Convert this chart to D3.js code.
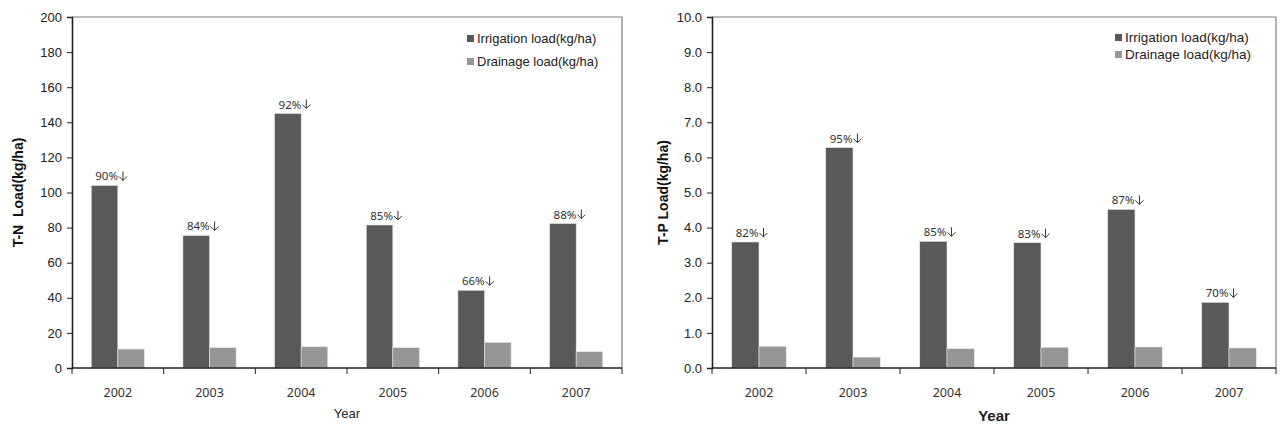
<!DOCTYPE html>
<html>
<head>
<meta charset="utf-8">
<script src="https://cdn.jsdelivr.net/npm/d3@7"></script>
<style>
  body { margin: 0; background: #fff; }
  svg { display: block; font-family: "Liberation Sans", Arial, sans-serif; }
</style>
</head>
<body>
<div id="chart"></div>
<script>
const years = ["2002", "2003", "2004", "2005", "2006", "2007"];
const tnIrrigation = [104, 75.5, 145, 81.5, 44.3, 82.3];
const tnDrainage = [10.8, 11.6, 12.1, 11.6, 14.6, 9.3];
const tnReduction = ["90%", "84%", "92%", "85%", "66%", "88%"];
const tpIrrigation = [3.59, 6.28, 3.61, 3.57, 4.52, 1.87];
const tpDrainage = [0.62, 0.31, 0.55, 0.59, 0.6, 0.57];
const tpReduction = ["82%", "95%", "85%", "83%", "87%", "70%"];
const seriesNames = ["Irrigation load(kg/ha)", "Drainage load(kg/ha)"];

var outerWidth = 1286, outerHeight = 432;
var colors = ["#595959", "#969696"];

var svg = d3.select("#chart").append("svg")
    .attr("width", outerWidth)
    .attr("height", outerHeight);

function drawPanel(opt) {
  var g = svg.append("g");
  var x = d3.scaleBand().domain(years).range([opt.left, opt.right]);
  var y = d3.scaleLinear().domain([0, opt.max]).range([opt.bottom, opt.top]);
  var barW = x.bandwidth() * 0.29;

  // frame: top & right gray
  g.append("path")
      .attr("d", `M${opt.left},${opt.top}H${opt.right}V${opt.bottom}`)
      .attr("fill", "none")
      .attr("stroke", "#7f7f7f")
      .attr("stroke-width", 1.2);

  var data = years.map((yr, i) => ({ year: yr, a: opt.irr[i], b: opt.dra[i], lab: opt.lab[i] }));

  var groups = g.selectAll(".grp").data(data).enter().append("g");
  groups.append("rect")
      .attr("x", d => x(d.year) + x.bandwidth() / 2 - barW)
      .attr("y", d => y(d.a))
      .attr("width", barW)
      .attr("height", d => y(0) - y(d.a))
      .attr("fill", colors[0])
      .attr("stroke", "#e6e6e6")
      .attr("stroke-width", 0.6);
  groups.append("rect")
      .attr("x", d => x(d.year) + x.bandwidth() / 2)
      .attr("y", d => y(d.b))
      .attr("width", barW)
      .attr("height", d => y(0) - y(d.b))
      .attr("fill", colors[1])
      .attr("stroke", "#e6e6e6")
      .attr("stroke-width", 0.6);

  // reduction label: percent text + drawn down-arrow
  groups.each(function(d) {
    var grp = d3.select(this);
    var x0 = x(d.year) + x.bandwidth() / 2 - barW + 4,
        y0 = y(d.a) - 5;
    var t = grp.append("text")
        .attr("x", x0)
        .attr("y", y0)
        .attr("font-family", "'Noto Sans', sans-serif")
        .attr("font-size", "11.5px")
        .attr("fill", "#333")
        .text(d.lab);
    var w = t.node().getComputedTextLength();
    var ax = x0 + w + 5;
    grp.append("path")
        .attr("d", `M${ax},${y0 - 9}V${y0}M${ax - 4},${y0 - 4}L${ax},${y0}L${ax + 4},${y0 - 4}`)
        .attr("fill", "none")
        .attr("stroke", "#333")
        .attr("stroke-width", 1);
  });

  // y axis
  var yAxis = g.append("g")
      .attr("transform", `translate(${opt.left},0)`)
      .call(d3.axisLeft(y).tickValues(d3.range(0, opt.max + opt.step / 2, opt.step))
        .tickFormat(opt.fmt).tickSize(5).tickPadding(5));
  yAxis.select(".domain").attr("stroke", "#222").attr("stroke-width", 1.6);
  yAxis.selectAll(".tick line").attr("stroke", "#222");
  yAxis.selectAll("text").attr("font-size", "13px").attr("fill", "#222")
      .attr("font-family", "'Liberation Sans', Arial, sans-serif");

  // x axis with boundary ticks
  var xAxis = g.append("g").attr("transform", `translate(0,${opt.bottom})`);
  xAxis.append("line")
      .attr("x1", opt.left).attr("x2", opt.right)
      .attr("stroke", "#222").attr("stroke-width", 1.6);
  var bounds = years.map(d => x(d)).concat([opt.right]);
  xAxis.selectAll(".bt").data(bounds).enter().append("line")
      .attr("x1", d => d).attr("x2", d => d)
      .attr("y1", 0).attr("y2", 6)
      .attr("stroke", "#222");
  xAxis.selectAll(".xl").data(years).enter().append("text")
      .attr("x", d => x(d) + x.bandwidth() / 2)
      .attr("y", 29)
      .attr("text-anchor", "middle")
      .attr("font-family", "'Noto Sans', sans-serif")
      .attr("font-size", "12.5px")
      .attr("fill", "#333")
      .text(d => d);

  svg.append("text")
      .attr("x", (opt.left + opt.right) / 2)
      .attr("y", opt.bottom + opt.xtY)
      .attr("text-anchor", "middle")
      .attr("font-size", opt.xtSize)
      .attr("font-weight", opt.xtWeight)
      .attr("fill", "#222")
      .text("Year");

  svg.append("text")
      .attr("transform", `translate(${opt.ytX},${(opt.top + opt.bottom) / 2}) rotate(-90)`)
      .attr("text-anchor", "middle")
      .attr("font-size", "14px")
      .attr("font-weight", "bold")
      .attr("fill", "#111")
      .attr("xml:space", "preserve")
      .text(opt.ytitle);

  // legend
  seriesNames.forEach((s, i) => {
    var ly = opt.legY + i * opt.legGap;
    g.append("rect")
        .attr("x", opt.legX).attr("y", ly - 8)
        .attr("width", 7).attr("height", 7)
        .attr("fill", colors[i]);
    g.append("text")
        .attr("x", opt.legX + 10).attr("y", ly)
        .attr("font-size", opt.legSize)
        .attr("fill", "#222")
        .text(s);
  });
}

drawPanel({
  left: 72, right: 622, top: 17, bottom: 368, max: 200, step: 20,
  fmt: d3.format("d"), irr: tnIrrigation, dra: tnDrainage, lab: tnReduction,
  ytitle: "T-N  Load(kg/ha)", ytX: 23, xtY: 50, xtSize: "13px", xtWeight: "normal",
  legX: 467, legY: 43, legGap: 23, legSize: "13px"
});

drawPanel({
  left: 712, right: 1276, top: 17, bottom: 368, max: 10, step: 1,
  fmt: d3.format(".1f"), irr: tpIrrigation, dra: tpDrainage, lab: tpReduction,
  ytitle: "T-P Load(kg/ha)", ytX: 668, xtY: 53, xtSize: "15px", xtWeight: "bold",
  legX: 1115, legY: 42, legGap: 17, legSize: "13.5px"
});
</script>
</body>
</html>
